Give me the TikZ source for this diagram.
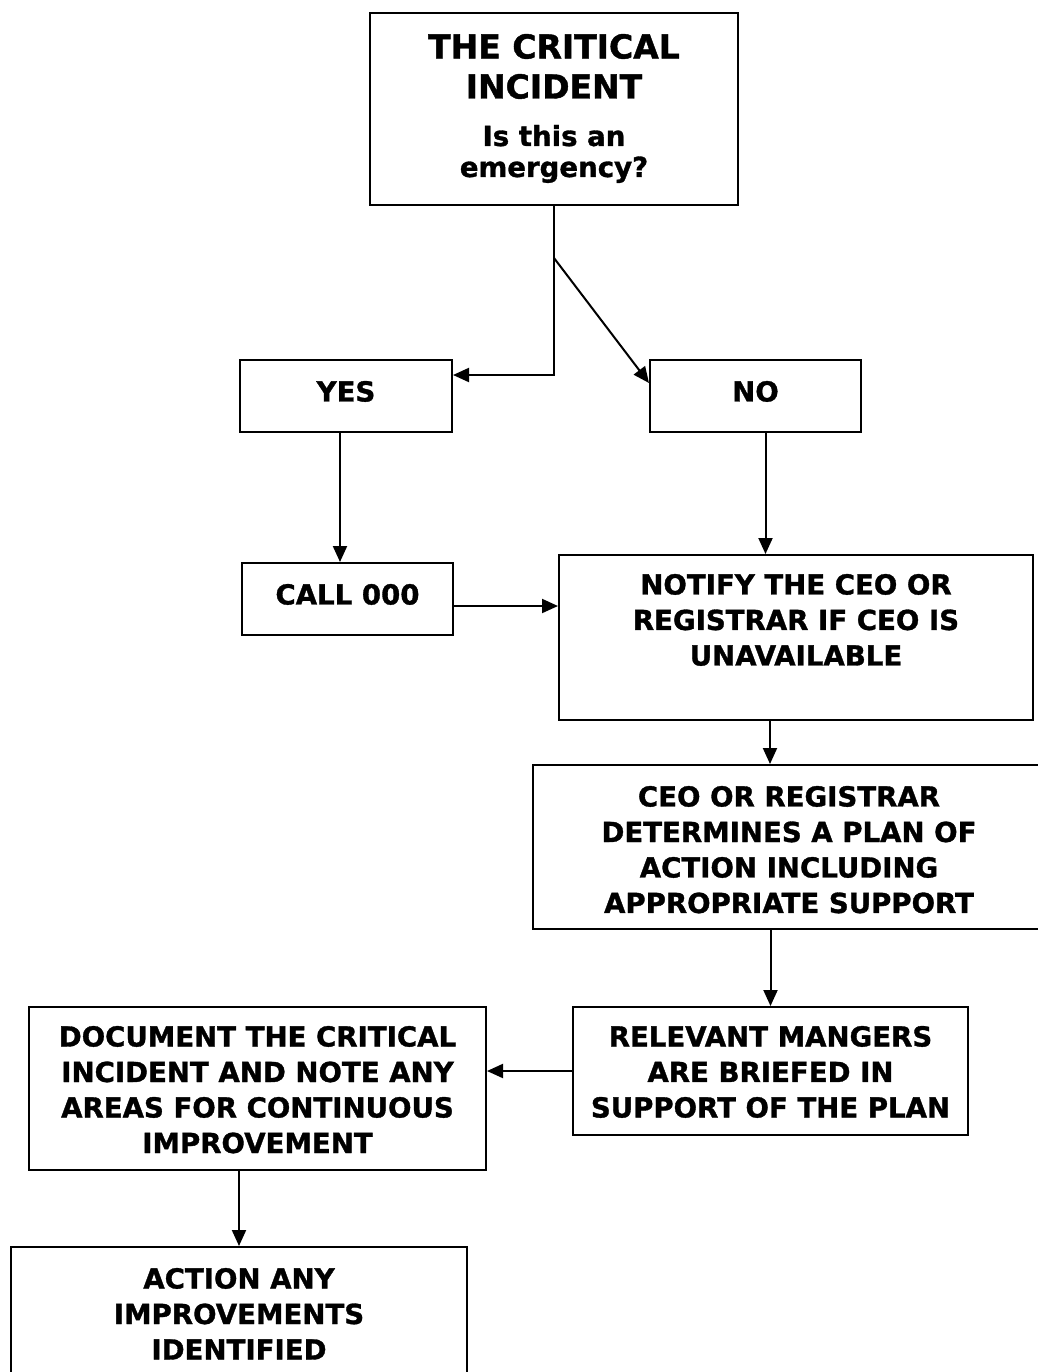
\documentclass[tikz,border=0pt]{standalone}
\usepackage{fontspec}
\setmainfont{DejaVu Sans}[BoldFeatures={FakeBold=1.2}]
\usetikzlibrary{arrows.meta}

\tikzset{
  box/.style={draw, line width=1pt, inner sep=0pt},
  txt/.style={font=\bfseries\fontsize{13.8}{17.75}\selectfont, align=center, anchor=north, inner sep=0pt},
}

\begin{document}
\begin{tikzpicture}[x=0.5pt, y=-0.5pt, >={Triangle[length=8pt,width=7pt]}, line width=1pt]
  \useasboundingbox (0,0) rectangle (1038,1372);

  % The critical incident
  \node[box, minimum width=184pt, minimum height=96pt] (incident) at (554,109) {};
  \node[txt, font=\bfseries\fontsize{16.5}{20}\selectfont] (title) at (554,33) {THE CRITICAL\\INCIDENT};
  \node[txt, font=\bfseries\fontsize{13.8}{15.5}\selectfont] (question) at (554,124) {Is this an\\emergency?};

  % Yes / No
  \node[box, minimum width=106pt, minimum height=36pt] (yes) at (346,396) {};
  \node[txt] (yestext) at (346,380) {YES};
  \node[box, minimum width=105.5pt, minimum height=36pt] (no) at (755.5,396) {};
  \node[txt] (notext) at (755.5,380) {NO};

  % Call 000
  \node[box, minimum width=105.5pt, minimum height=36pt] (call) at (347.5,599) {};
  \node[txt] (calltext) at (347.5,583) {CALL 000};

  % Notify the CEO
  \node[box, minimum width=237pt, minimum height=82.5pt] (notify) at (796,637.5) {};
  \node[txt] (notifytext) at (796,573) {NOTIFY THE CEO OR\\REGISTRAR IF CEO IS\\UNAVAILABLE};

  % Plan of action
  \node[box, minimum width=256pt, minimum height=82pt] (plan) at (789,847) {};
  \node[txt] (plantext) at (789,785) {CEO OR REGISTRAR\\DETERMINES A PLAN OF\\ACTION INCLUDING\\APPROPRIATE SUPPORT};

  % Managers briefed
  \node[box, minimum width=197.5pt, minimum height=64pt] (briefed) at (770.5,1071) {};
  \node[txt] (briefedtext) at (770.5,1025) {RELEVANT MANGERS\\ARE BRIEFED IN\\SUPPORT OF THE PLAN};

  % Document the incident
  \node[box, minimum width=228.5pt, minimum height=81.5pt] (document) at (257.5,1088.5) {};
  \node[txt] (documenttext) at (257.5,1025) {DOCUMENT THE CRITICAL\\INCIDENT AND NOTE ANY\\AREAS FOR CONTINUOUS\\IMPROVEMENT};

  % Action improvements
  \node[box, minimum width=228pt, minimum height=86pt] (action) at (239,1333) {};
  \node[txt] (actiontext) at (239,1267) {ACTION ANY\\IMPROVEMENTS\\IDENTIFIED};

  % Connectors
  \coordinate (fork) at (554,258);
  \draw[->] (incident.south) |- ([yshift=10.5pt]yes.east);
  \draw[->] (fork) -- ([yshift=6.5pt]no.west);
  \draw[->] ([xshift=-3pt]yes.south) -- ([xshift=-3pt]yes.south |- call.north);
  \draw[->] ([xshift=5pt]no.south) -- ([xshift=5pt]no.south |- notify.north);
  \draw[->] ([yshift=-3.5pt]call.east) -- ([yshift=-3.5pt]call.east -| notify.west);
  \draw[->] ([xshift=-13pt]notify.south) -- ([xshift=-13pt]notify.south |- plan.north);
  \draw[->] (briefed.north |- plan.south) -- (briefed.north);
  \draw[->] (briefed.west) -- (briefed.west -| document.east);
  \draw[->] (action.north |- document.south) -- (action.north);

\end{tikzpicture}
\end{document}
